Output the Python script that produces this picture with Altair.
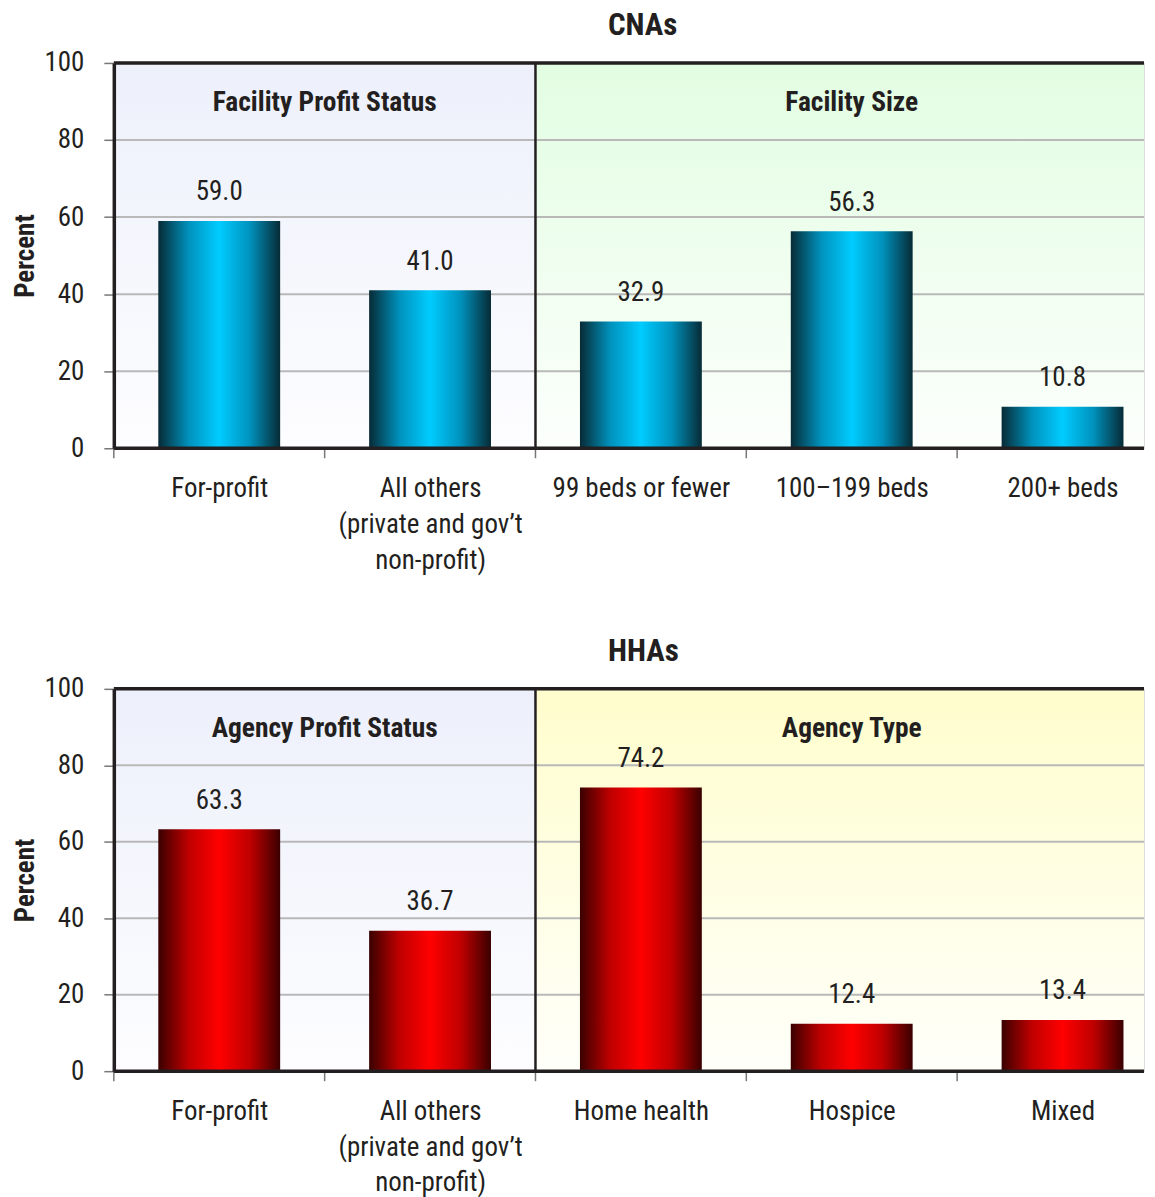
import json
import altair as alt
import pandas as pd

FONT = "Roboto Condensed"
INK = "#231f20"

# ---------------- data ----------------
y_ticks = [0, 20, 40, 60, 80, 100]
grid_values = [20, 40, 60, 80]

cna_title = "CNAs"
cna_categories = ["For-profit", "All others|(private and gov’t|non-profit)",
                  "99 beds or fewer", "100–199 beds", "200+ beds"]
cna_values = [59.0, 41.0, 32.9, 56.3, 10.8]
cna_sections = ["Facility Profit Status", "Facility Size"]
cna_section_counts = [2, 3]

hha_title = "HHAs"
hha_categories = ["For-profit", "All others|(private and gov’t|non-profit)",
                  "Home health", "Hospice", "Mixed"]
hha_values = [63.3, 36.7, 74.2, 12.4, 13.4]
hha_sections = ["Agency Profit Status", "Agency Type"]
hha_section_counts = [2, 3]

# ---------------- styles ----------------
def hgrad(edge, mid1, center):
    return alt.LinearGradient(
        gradient="linear", x1=0, x2=1, y1=0, y2=0,
        stops=[alt.GradientStop(offset=0, color=edge),
               alt.GradientStop(offset=0.25, color=mid1),
               alt.GradientStop(offset=0.5, color=center),
               alt.GradientStop(offset=0.75, color=mid1),
               alt.GradientStop(offset=1, color=edge)])

def vgrad(top, bottom):
    return alt.LinearGradient(
        gradient="linear", x1=0, x2=0, y1=0, y2=1,
        stops=[alt.GradientStop(offset=0, color=top),
               alt.GradientStop(offset=1, color=bottom)])

cyan_bar = hgrad("#072b36", "#0092bd", "#00ccff")
red_bar = hgrad("#3a0000", "#c00000", "#ff0000")
blue_bg = vgrad("#edf0fb", "#fdfdff")
green_bg = vgrad("#e2fde2", "#fcfffc")
yellow_bg = vgrad("#fffdcc", "#fffffa")

W = 1032          # visible plot width (the original is cut at the right edge)
FULL = 1056       # width of the five category bands


def panel(title, cats, vals, sections, counts, bar_color, right_bg, H):
    n = len(cats)
    # index scale: category i occupies [i, i+1]; only part of the last band is visible
    idx_scale = alt.Scale(domain=[0, n * W / FULL], nice=False, zero=False, clamp=True)
    y_scale = alt.Scale(domain=[0, 100], nice=False)
    band = alt.Scale(paddingInner=0, paddingOuter=0, range=[0, FULL])

    starts = [sum(counts[:i]) for i in range(len(counts))]
    ends = [s + c for s, c in zip(starts, counts)]
    sec_df = pd.DataFrame({"section": sections, "x0": starts, "x1": ends,
                           "mid": [(s + e) / 2 for s, e in zip(starts, ends)]})
    bars_df = pd.DataFrame({"cat": cats, "val": vals})
    pos_df = pd.DataFrame({"i": list(range(n)), "c": [i + 0.5 for i in range(n)]})
    grid_df = pd.DataFrame({"v": grid_values})
    sep_df = pd.DataFrame({"b": ends[:-1]})
    edge_df = pd.DataFrame({"v": [y_ticks[0], y_ticks[-1]]})

    bg_layers = []
    for i, fill in enumerate([blue_bg, right_bg]):
        bg_layers.append(
            alt.Chart(sec_df.iloc[[i]]).mark_rect(color=fill, clip=True).encode(
                x=alt.X("x0:Q", scale=idx_scale, axis=None),
                x2="x1:Q",
                y=alt.Y("y0:Q", scale=y_scale),
                y2="y1:Q",
            ).transform_calculate(y0="0", y1="100")
        )

    grid = alt.Chart(grid_df).mark_rule(color="#b9b9b9", strokeWidth=2).encode(
        y=alt.Y("v:Q", scale=y_scale))
    sep = alt.Chart(sep_df).mark_rule(color=INK, strokeWidth=2.5).encode(
        x=alt.X("b:Q", scale=idx_scale, axis=None))

    label_expr = "split(" + json.dumps(cats, ensure_ascii=False) + "[floor(datum.value)], '|')"
    # category ticks (band boundaries) + category labels (band centres)
    ticks = alt.Chart(pos_df).mark_rule(color="#777777", strokeWidth=1.5).encode(
        x=alt.X("i:Q", scale=idx_scale, axis=None),
        y=alt.value(H), y2=alt.value(H + 10))
    xlabels = alt.Chart(pos_df).mark_point(opacity=0).encode(
        x=alt.X("c:Q", scale=idx_scale,
                axis=alt.Axis(values=[i + 0.5 for i in range(n)], title=None,
                              labelAngle=0, labelFontSize=27, labelFont=FONT,
                              labelColor=INK, labelLineHeight=36,
                              labelPadding=27, labelLimit=400,
                              labelFlush=False, labelOverlap=False,
                              labelExpr=label_expr, ticks=False,
                              domain=False, grid=False, zindex=1)),
        y=alt.Y("y0:Q", scale=y_scale),
    ).transform_calculate(y0="0")

    bars = alt.Chart(bars_df).mark_bar(
        color=bar_color, width=alt.RelativeBandSize(0.578)
    ).encode(
        x=alt.X("cat:N", sort=cats, scale=band, axis=None),
        y=alt.Y("val:Q", scale=y_scale,
                axis=alt.Axis(values=y_ticks, title="Percent",
                              titleFont=FONT, titleFontSize=27,
                              titleFontWeight="bold", titleColor=INK,
                              titleX=-88, titleY=H / 2, titleAngle=270,
                              titleAlign="center", titleBaseline="middle",
                              labelFont=FONT, labelFontSize=27,
                              labelColor=INK, labelPadding=20,
                              tickSize=10, tickColor="#777777",
                              tickWidth=1.5, domainColor=INK,
                              domainWidth=3.5, grid=False, zindex=1)),
    )
    edges = alt.Chart(edge_df).mark_rule(color=INK, strokeWidth=3.5).encode(
        y=alt.Y("v:Q", scale=y_scale))
    labels = alt.Chart(bars_df).mark_text(
        font=FONT, fontSize=27, color=INK, baseline="alphabetic", dy=-20.5
    ).encode(
        x=alt.X("cat:N", sort=cats, scale=band, axis=None),
        y=alt.Y("val:Q", scale=y_scale),
        text=alt.Text("val:Q", format=".1f"),
    )
    headers = alt.Chart(sec_df).mark_text(
        font=FONT, fontSize=27.5, fontWeight="bold", color=INK,
        baseline="middle"
    ).encode(
        x=alt.X("mid:Q", scale=idx_scale, axis=None),
        y=alt.datum(89.5),
        text="section:N",
    )

    return alt.layer(*bg_layers, grid, sep, ticks, xlabels, bars, edges,
                     labels, headers).resolve_scale(
        x="independent"
    ).properties(
        width=W, height=H,
        title=alt.TitleParams(title, font=FONT, fontSize=31, fontWeight="bold",
                              color=INK, anchor="start", frame="group",
                              dx=(FULL / 2) - 33, offset=7),
    )


top = panel(cna_title, cna_categories, cna_values, cna_sections,
            cna_section_counts, cyan_bar, green_bg, 386)
bottom = panel(hha_title, hha_categories, hha_values, hha_sections,
               hha_section_counts, red_bar, yellow_bg, 383)

chart = alt.vconcat(top, bottom, spacing=61).properties(
    padding={"left": 3, "top": 0, "right": 0, "bottom": 0}
).configure_view(stroke=None).configure(font=FONT)

chart.save("out.html", embed_options={"renderer": "svg", "actions": False})
